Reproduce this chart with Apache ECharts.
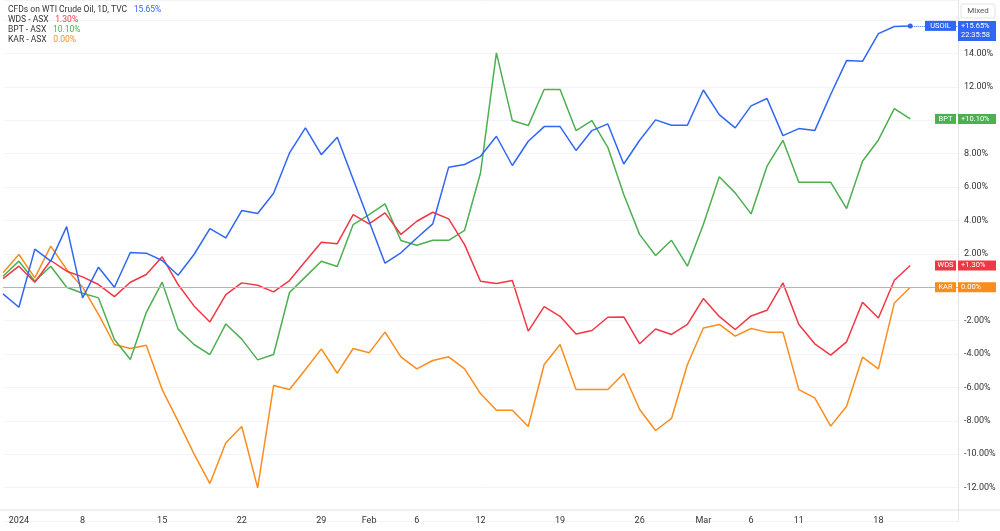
<!DOCTYPE html>
<html><head><meta charset="utf-8">
<script src="https://cdn.jsdelivr.net/npm/echarts@6/dist/echarts.min.js"></script>
<style>html,body{margin:0;padding:0;background:#fff}#c{width:1000px;height:531px}</style>
</head><body><div id="c"></div>
<script>
const categories = ['Dec 29','Jan 2','Jan 3','Jan 4','Jan 5','Jan 8','Jan 9','Jan 10','Jan 11','Jan 12','Jan 15','Jan 16','Jan 17','Jan 18','Jan 19','Jan 22','Jan 23','Jan 24','Jan 25','Jan 26','Jan 29','Jan 30','Jan 31','Feb 1','Feb 2','Feb 5','Feb 6','Feb 7','Feb 8','Feb 9','Feb 12','Feb 13','Feb 14','Feb 15','Feb 16','Feb 19','Feb 20','Feb 21','Feb 22','Feb 23','Feb 26','Feb 27','Feb 28','Feb 29','Mar 1','Mar 4','Mar 5','Mar 6','Mar 7','Mar 8','Mar 11','Mar 12','Mar 13','Mar 14','Mar 15','Mar 18','Mar 19','Mar 20','','',''];
const tickLabels = {'Jan 2':'2024','Jan 8':'8','Jan 15':'15','Jan 22':'22','Jan 29':'29','Feb 1':'Feb','Feb 6':'6','Feb 12':'12','Feb 19':'19','Feb 26':'26','Mar 1':'Mar','Mar 6':'6','Mar 11':'11','Mar 18':'18'};
const usoil = [-0.4,-1.2,2.28,1.56,3.63,-0.64,1.2,0,2.08,2.04,1.6,0.72,1.96,3.51,2.95,4.59,4.41,5.63,8.04,9.54,7.94,8.98,6.47,3.95,1.44,2.06,2.95,3.79,7.19,7.35,7.84,9.04,7.29,8.74,9.62,9.62,8.19,9.38,9.78,7.38,8.8,10.02,9.7,9.7,11.81,10.34,9.54,10.86,11.3,9.08,9.5,9.38,11.54,13.57,13.53,15.19,15.61,15.65];
const wds = [0.52,1.26,0.3,1.6,0.96,0.62,0.16,-0.56,0.3,0.76,1.82,0.16,-1.12,-2.08,-0.44,0.26,0.12,-0.28,0.4,1.56,2.69,2.61,4.35,3.79,4.45,3.16,3.95,4.49,4.09,2.55,0.36,0.22,0.4,-2.63,-1.16,-1.74,-2.8,-2.59,-1.8,-1.78,-3.39,-2.5,-2.83,-2.23,-0.68,-1.75,-2.53,-1.72,-1.38,0.26,-2.23,-3.39,-4.07,-3.27,-0.9,-1.84,0.42,1.3];
const bpt = [0.66,1.56,0.36,1.26,0,-0.36,-0.64,-3.13,-4.33,-1.52,0.3,-2.51,-3.43,-4.03,-2.2,-3.11,-4.35,-4.03,-0.32,0.62,1.56,1.24,3.75,4.35,4.99,2.8,2.51,2.81,2.81,3.41,6.84,14.03,9.98,9.68,11.84,11.84,9.38,9.98,8.38,5.55,3.15,1.9,2.81,1.26,3.75,6.61,5.65,4.39,7.25,8.8,6.29,6.29,6.29,4.71,7.54,8.82,10.7,10.08];
const kar = [0.86,1.96,0.56,2.46,1.06,0,-1.63,-3.43,-3.67,-3.47,-6.13,-8.02,-9.98,-11.76,-9.32,-8.34,-12.02,-5.89,-6.13,-4.93,-3.69,-5.15,-3.67,-3.93,-2.69,-4.17,-4.89,-4.39,-4.17,-4.89,-6.37,-7.37,-7.37,-8.34,-4.63,-3.43,-6.13,-6.13,-6.13,-5.17,-7.32,-8.58,-7.86,-4.63,-2.44,-2.23,-2.93,-2.47,-2.69,-2.69,-6.13,-6.63,-8.32,-7.13,-4.19,-4.89,-0.94,0];
const seriesNames = ['USOIL','WDS','BPT','KAR'];
const legendNames = ['CFDs on WTI Crude Oil, 1D, TVC','WDS - ASX','BPT - ASX','KAR - ASX'];
const legendVals = ['15.65%','1.30%','10.10%','0.00%'];
const lastText = ['+15.65%','+1.30%','+10.10%','0.00%'];
const colors = ['#2f66f5','#f23645','#4caf50','#fb8c1e'];

const chart = echarts.init(document.getElementById('c'));
const dataSets = [usoil, wds, bpt, kar];
const series = dataSets.map((d,k)=>({
  name: seriesNames[k], type:'line', data:d, symbol:'none', smooth:false,
  lineStyle:{width:1.5,color:colors[k]}, itemStyle:{color:colors[k]}, z: 5-k,
  markLine: k===1 ? {silent:true,symbol:'none',label:{show:false},lineStyle:{color:'#b2b5be',type:'solid',width:1},data:[{yAxis:0}]} :
           k===0 ? {silent:true,symbol:'none',label:{show:false},lineStyle:{color:colors[0],type:'dotted',width:1},data:[[{coord:[57,15.65]},{coord:[60,15.65]}]]} : undefined,
  markPoint: k===0 ? {symbol:'circle',symbolSize:5,label:{show:false},itemStyle:{color:colors[0]},data:[{coord:[57,15.65]}]} : undefined
}));
chart.setOption({
  animation:false,
  grid:{left:0,right:42,top:0,bottom:10,containLabel:false},
  xAxis:{type:'category',data:categories,boundaryGap:false,
    axisLine:{show:false},axisTick:{show:false},
    axisLabel:{interval:0,fontSize:9,color:'#333',margin:-5,fontFamily:'Roboto',
      formatter:v=>tickLabels[v]||''},
    splitLine:{show:false}},
  yAxis:{type:'value',position:'right',min:-14,max:17.2,interval:2,
    axisLine:{show:true,lineStyle:{color:'#e0e3eb'}},axisTick:{show:false},
    axisLabel:{fontSize:9,color:'#333',margin:6,fontFamily:'Roboto',showMaxLabel:false,
      formatter:v=>(v>=-12&&v<=14&&v!==0)?v.toFixed(2)+'%':''},
    splitLine:{lineStyle:{color:'#f3f4f7'}}},
  series
});
const g=[];
legendNames.forEach((n,k)=>{
  g.push({type:'text',left:8,top:4+k*10,style:{text:'{a|'+n+'}  {b|'+legendVals[k]+'}',
    rich:{a:{fontSize:8.5,fill:'#333',fontFamily:'Roboto'},b:{fontSize:8.5,fill:colors[k],fontFamily:'Roboto'}}}});
});
g.push({type:'rect',shape:{x:961,y:4,width:34,height:14,r:2},style:{fill:'#fff',stroke:'#e0e3eb'}});
g.push({type:'text',x:978,y:11,style:{text:'Mixed',fontSize:8,fill:'#555',align:'center',verticalAlign:'middle',fontFamily:'Roboto'}});
const lastVals=[usoil[57],wds[57],bpt[57],kar[57]];
lastVals.forEach((v,k)=>{
  const y=chart.convertToPixel({yAxisIndex:0},v);
  const h = k===0?20:10;
  const w = seriesNames[k].length*5+6;
  g.push({type:'rect',shape:{x:956-w,y:y-5,width:w,height:10},style:{fill:colors[k]},z:10});
  g.push({type:'text',x:956-w/2,y:y,style:{text:seriesNames[k],fontSize:7.5,fill:'#fff',align:'center',verticalAlign:'middle',fontFamily:'Roboto'},z:11});
  g.push({type:'rect',shape:{x:958,y:y-5,width:38,height:h},style:{fill:colors[k]},z:10});
  g.push({type:'text',x:961,y:y,style:{text:lastText[k],fontSize:7.5,fill:'#fff',verticalAlign:'middle',fontFamily:'Roboto'},z:11});
  if(k===0) g.push({type:'text',x:961,y:y+9,style:{text:'22:35:58',fontSize:7.5,fill:'#fff',verticalAlign:'middle',fontFamily:'Roboto'},z:11});
});
g.push({type:'line',shape:{x1:0,y1:510,x2:1000,y2:510},style:{stroke:'#e0e3eb'}});
chart.setOption({graphic:g});
</script></body></html>
